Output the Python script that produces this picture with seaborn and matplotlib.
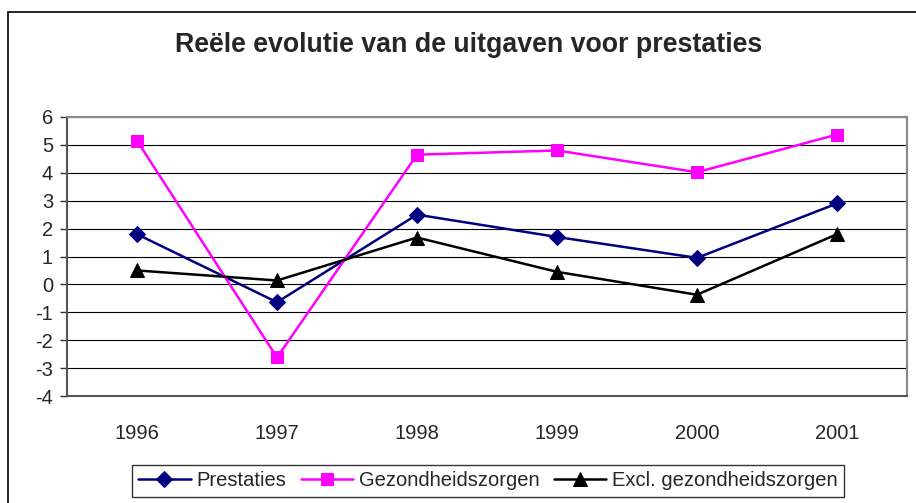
import matplotlib
matplotlib.use("Agg")
import matplotlib.pyplot as plt
import seaborn as sns
import pandas as pd
from matplotlib.patches import Rectangle

years = ["1996", "1997", "1998", "1999", "2000", "2001"]
prestaties = [1.8, -0.64, 2.5, 1.7, 0.95, 2.9]
gezondheidszorgen = [5.15, -2.62, 4.65, 4.8, 4.02, 5.37]
excl_gezondheidszorgen = [0.5, 0.14, 1.68, 0.45, -0.37, 1.8]
series_names = ["Prestaties", "Gezondheidszorgen", "Excl. gezondheidszorgen"]
title = "Reële evolutie van de uitgaven voor prestaties"
yticks = list(range(-4, 7))

sns.set_style("white")
plt.rcParams['font.family'] = ['Liberation Sans', 'DejaVu Sans']

df = pd.DataFrame({
    "year": years * 3,
    "value": prestaties + gezondheidszorgen + excl_gezondheidszorgen,
    "series": [series_names[0]] * 6 + [series_names[1]] * 6 + [series_names[2]] * 6,
})

fig = plt.figure(figsize=(9.16, 5.03), dpi=100)
fig.patches.append(Rectangle((8/916, -0.1), 1.2, (503-12)/503 + 0.1, transform=fig.transFigure,
                             fill=False, edgecolor='black', linewidth=1.2))
ax = fig.add_axes([67/916, (503-396)/503, (907-67)/916, (396-117)/503])

palette = {series_names[0]: "#000080", series_names[1]: "#FF00FF", series_names[2]: "#000000"}
markers = {series_names[0]: "D", series_names[1]: "s", series_names[2]: "^"}
sizes = {series_names[0]: 8, series_names[1]: 9, series_names[2]: 9.5}

for name in series_names:
    sub = df[df["series"] == name]
    sns.lineplot(data=sub, x="year", y="value", ax=ax, color=palette[name], marker=markers[name],
                 markersize=sizes[name], markeredgecolor=palette[name], linewidth=1.8, label=name,
                 sort=False)

ax.set_ylim(-4, 6)
ax.set_xlim(-0.5, 5.5)
ax.set_yticks(yticks)
ax.set_yticklabels([str(t) for t in yticks], fontsize=14.5)
ax.set_xticks(range(len(years)))
ax.set_xticklabels(years, fontsize=14.5)
ax.set_xlabel("")
ax.set_ylabel("")
for t in yticks:
    ax.axhline(t, color='black', linewidth=0.8, zorder=0)
# category boundary ticks
ax.set_xticks([i + 0.5 for i in range(-1, 6)], minor=True)
ax.tick_params(axis='x', which='major', length=0, pad=20)
ax.tick_params(axis='x', which='minor', length=5, width=1, color='#333333', direction='out')
ax.tick_params(axis='y', length=5, width=1, color='#333333', direction='out', pad=5, left=True)
for side in ['top', 'right']:
    ax.spines[side].set_color('#888888')
    ax.spines[side].set_linewidth(1.5)
ax.spines['left'].set_color('#555555')
ax.spines['left'].set_linewidth(1.5)
ax.spines['bottom'].set_color('#555555')
ax.spines['bottom'].set_linewidth(1.5)

fig.text(469/916, 1 - 45/503, title, ha='center', va='center', fontsize=19.3, fontweight='bold')

ax.get_legend().remove()
handles, labels = ax.get_legend_handles_labels()
leg = fig.legend(handles, labels, loc='center', bbox_to_anchor=(488/916, 1 - 481/503), ncol=3,
                 fontsize=14.5, frameon=True, fancybox=False, handlelength=2.6, columnspacing=0.7,
                 handletextpad=0.3, borderpad=0.3, borderaxespad=0)
leg.get_frame().set_edgecolor('black')
leg.get_frame().set_linewidth(1.0)

fig.savefig("out.png", dpi=100)
